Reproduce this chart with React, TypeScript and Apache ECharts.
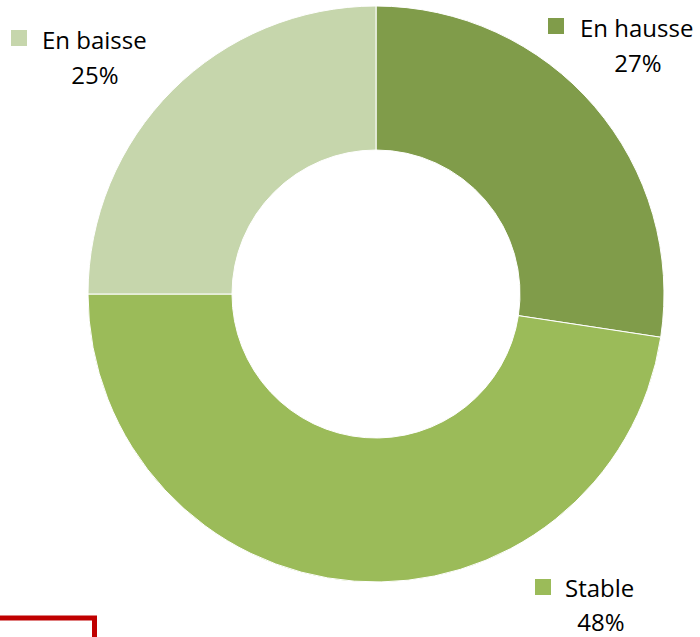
import React, { useEffect, useRef } from "react";
import * as echarts from "echarts";

const categories = ["En hausse", "Stable", "En baisse"];
const values = [27.4, 47.6, 25];
const colors = ["#809C4A", "#9BBB59", "#C6D6AC"];

// label anchor positions
const labelLayout = [
  { sqX: 548, sqY: 18, nameX: 580, nameY: 27, pctX: 638, pctY: 62 },
  { sqX: 535, sqY: 579, nameX: 565, nameY: 587, pctX: 601, pctY: 621 },
  { sqX: 11, sqY: 30, nameX: 42, nameY: 39, pctX: 95, pctY: 74 },
];

const FONT = "'Open Sans', Lato, sans-serif";

export default function App() {
  const ref = useRef<HTMLDivElement>(null);
  useEffect(() => {
    if (!ref.current) return;
    const chart = echarts.init(ref.current, undefined, { renderer: "svg" });
    const graphics: any[] = [];
    categories.forEach((c, i) => {
      const l = labelLayout[i];
      graphics.push({
        type: "rect",
        shape: { x: l.sqX, y: l.sqY, width: 16, height: 16 },
        style: { fill: colors[i] },
      });
      graphics.push({
        type: "text",
        x: l.nameX,
        y: l.nameY,
        style: {
          text: c,
          fill: "#000",
          font: `24px ${FONT}`,
          textAlign: "left",
          textVerticalAlign: "middle",
        },
      });
      graphics.push({
        type: "text",
        x: l.pctX,
        y: l.pctY,
        style: {
          text: Math.round(values[i]) + "%",
          fill: "#000",
          font: `24px ${FONT}`,
          textAlign: "center",
          textVerticalAlign: "middle",
        },
      });
    });
    graphics.push({
      type: "polyline",
      shape: { points: [[0, 618], [94.5, 618], [94.5, 637]] },
      style: { stroke: "#C00000", lineWidth: 5, fill: "none" },
    });
    chart.setOption({
      animation: false,
      backgroundColor: "#fff",
      series: [
        {
          type: "pie",
          center: [376, 294],
          radius: [144, 288],
          startAngle: 90,
          clockwise: true,
          label: { show: false },
          labelLine: { show: false },
          itemStyle: { borderColor: "#fff", borderWidth: 1 },
          emphasis: { disabled: true },
          data: categories.map((c, i) => ({
            name: c,
            value: values[i],
            itemStyle: { color: colors[i] },
          })),
        },
      ],
      graphic: graphics,
    });
    return () => chart.dispose();
  }, []);
  return (
    <div
      ref={ref}
      style={{ position: "fixed", left: 0, top: 0, width: 700, height: 637 }}
    />
  );
}
